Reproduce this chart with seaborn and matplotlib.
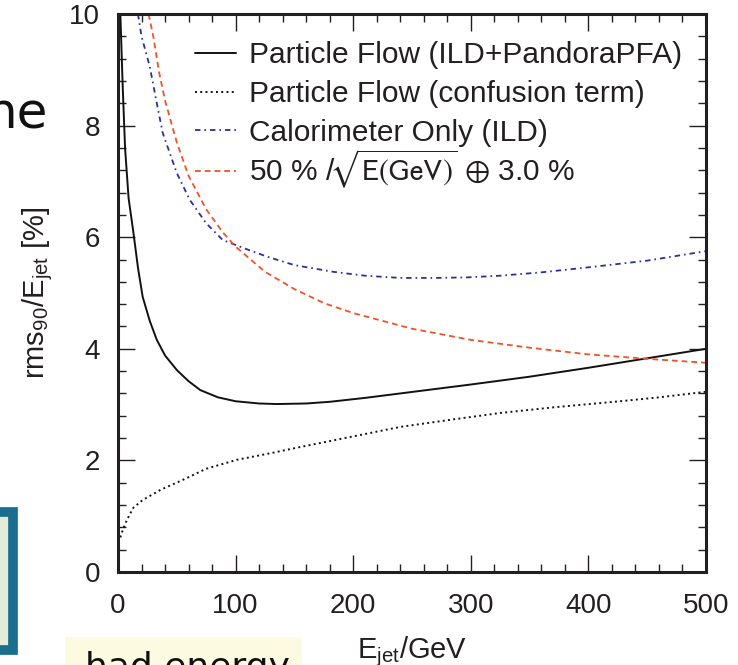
import numpy as np
import pandas as pd
import seaborn as sns
import matplotlib.pyplot as plt
from matplotlib.patches import Rectangle
from matplotlib.ticker import MultipleLocator

# values
pfa_e = [2, 4, 6, 9, 13, 17, 21, 27, 33, 40, 50, 60, 70, 85, 100, 120, 135, 160,
         180, 210, 240, 270, 300, 350, 400, 450, 500]
pfa_res = [10.0, 8.7, 7.6, 6.7, 6.1, 5.45, 4.93, 4.5, 4.16, 3.88, 3.62, 3.42, 3.26,
           3.13, 3.06, 3.02, 3.01, 3.02, 3.05, 3.12, 3.2, 3.28, 3.36, 3.5, 3.66,
           3.83, 4.0]

conf_e = [2, 4, 7.5, 13, 21, 36, 55, 75, 101, 130, 155, 200, 240, 280, 325, 370,
          427, 460, 500]
conf_res = [0.62, 0.75, 0.93, 1.15, 1.29, 1.47, 1.65, 1.85, 2.01, 2.13, 2.24, 2.43,
            2.6, 2.72, 2.85, 2.95, 3.06, 3.13, 3.23]

cal_e = [17, 20, 27, 33, 38, 45, 50, 61, 75, 89, 110, 127, 150, 183, 210, 240, 270,
         297, 325, 360, 400, 450, 500]
cal_res = [10.0, 9.6, 9.06, 8.4, 7.87, 7.45, 7.15, 6.67, 6.25, 5.95, 5.78, 5.65,
           5.5, 5.38, 5.31, 5.27, 5.27, 5.28, 5.31, 5.37, 5.46, 5.58, 5.75]

param_e = [26, 30, 35, 40, 50, 60, 75, 89, 100, 125, 150, 175, 200, 250, 300, 350,
           400, 450, 500]
param_res = [10.0, 9.6, 8.95, 8.45, 7.7, 7.1, 6.5, 6.09, 5.83, 5.38, 5.07, 4.82,
             4.64, 4.36, 4.16, 4.02, 3.9, 3.82, 3.75]

labels = ["Particle Flow (ILD+PandoraPFA)",
          "Particle Flow (confusion term)",
          "Calorimeter Only (ILD)",
          r"50 % /$\!\sqrt{\mathrm{E(GeV)}}$ $\oplus$ 3.0 %"]

x_ticks = [0, 100, 200, 300, 400, 500]
y_ticks = [0, 2, 4, 6, 8, 10]

sns.set_theme(style="ticks")
plt.rcParams["font.family"] = ["Liberation Sans", "DejaVu Sans"]
plt.rcParams["mathtext.fontset"] = "custom"
plt.rcParams["mathtext.rm"] = "Liberation Sans"
plt.rcParams["mathtext.it"] = "Liberation Sans:italic"
plt.rcParams["mathtext.bf"] = "Liberation Sans:bold"

W, H = 738, 665
fig = plt.figure(figsize=(W / 100, H / 100), dpi=100)

# slide background bits around the chart
fig.add_artist(Rectangle((-30 / W, 1 - 650 / H), 43 / W, 138 / H,
                         transform=fig.transFigure, facecolor="#e2ecd8",
                         edgecolor="#1a6f8e", linewidth=7))
fig.add_artist(Rectangle((65 / W, 0), 237 / W, 28 / H, transform=fig.transFigure,
                         facecolor="#fcfbe1", edgecolor="none"))
fig.text(85 / W, 1 - 651 / H, "had energy", family="DejaVu Sans", fontsize=26,
         va="top", ha="left", color="#111111")
fig.text(48 / W, 1 - 127 / H, "he", family="DejaVu Sans", fontsize=36,
         va="baseline", ha="right", color="#111111")

ax = fig.add_axes([118 / W, 1 - 572 / H, 588 / W, 558 / H])

sns.lineplot(x=pfa_e, y=pfa_res, ax=ax, color="#111111", lw=1.4, label=labels[0])
sns.lineplot(x=conf_e, y=conf_res, ax=ax, color="#111111", lw=1.4, label=labels[1])
ax.lines[-1].set_dashes((1, 1.7))
sns.lineplot(x=cal_e, y=cal_res, ax=ax, color="#2b2f9a", lw=1.3, label=labels[2])
ax.lines[-1].set_dashes((3, 2.2, 0.9, 2.2))
sns.lineplot(x=param_e, y=param_res, ax=ax, color="#f0522a", lw=1.3, label=labels[3])
ax.lines[-1].set_dashes((3.2, 2.2))

ax.set_xlim(0, 500)
ax.set_ylim(0, 10)
ax.set_xticks(x_ticks)
ax.set_yticks(y_ticks)
ax.xaxis.set_minor_locator(MultipleLocator(20))
ax.yaxis.set_minor_locator(MultipleLocator(0.4))
ax.tick_params(which="both", direction="in", top=True, right=True,
               color="#231f20", width=1.0)
ax.tick_params(which="major", length=12, labelsize=20, labelcolor="#231f20")
ax.tick_params(axis="x", which="major", pad=15)
ax.tick_params(axis="y", which="major", pad=13)
ax.tick_params(which="minor", length=5.8)
for sp in ax.spines.values():
    sp.set_visible(True)
    sp.set_linewidth(2.2)
    sp.set_color("#231f20")

ax.set_xlabel(r"E$_{\mathrm{jet}}$/GeV", fontsize=21, color="#231f20", labelpad=11)
ax.set_ylabel(r"rms$_{90}$/E$_{\mathrm{jet}}$ [%]", fontsize=21, color="#231f20",
              labelpad=10)

# legend in two parts: the sqrt label is taller than the rest
handles, texts = ax.get_legend_handles_labels()
leg_opts = dict(frameon=False, fontsize=21.5, handlelength=1.36, handletextpad=0.45,
                labelspacing=0.36, borderpad=0, borderaxespad=0)
leg1 = ax.legend(handles[:3], texts[:3], loc="upper left",
                 bbox_to_anchor=(0.131, 0.951), **leg_opts)
ax.add_artist(leg1)
leg2 = ax.legend(handles[3:], texts[3:], loc="center left",
                 bbox_to_anchor=(0.131, 0.722), **leg_opts)
leg2.get_texts()[0].set_math_fontfamily("stixsans")
for leg in (leg1, leg2):
    for t in leg.get_texts():
        t.set_color("#231f20")

fig.savefig("out.png", dpi=100)
